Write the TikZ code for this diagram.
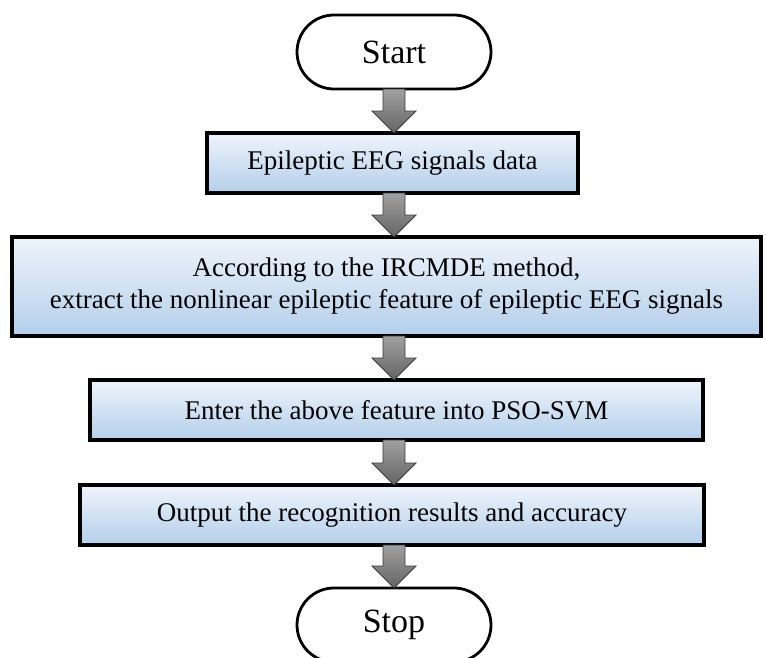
\documentclass[tikz,border=0pt]{standalone}
\usepackage{fontspec}
\setmainfont{Liberation Serif}
\usetikzlibrary{calc}
\definecolor{boxtop}{RGB}{238,244,251}
\definecolor{boxbot}{RGB}{180,207,235}
\definecolor{arrtop}{RGB}{160,160,160}
\definecolor{arrbot}{RGB}{100,100,100}
\definecolor{arrline}{RGB}{60,60,60}
\tikzset{
  procbox/.style={rectangle, draw=black, line width=3.5pt, top color=boxtop, bottom color=boxbot,
    inner sep=0pt, outer sep=0pt, align=center, font=\fontsize{27}{32}\selectfont},
  termbox/.style={rectangle, draw=black, line width=2.8pt, fill=white, rounded corners=37pt,
    minimum width=194pt, minimum height=74pt, inner sep=0pt, outer sep=0pt,
    font=\fontsize{34}{40}\selectfont},
  blockarr/.style={draw=arrline, line width=0.9pt, top color=arrtop, bottom color=arrbot, line join=miter}
}
\newcommand{\blockarrow}[2]{%
  \path[blockarr] let \p1=(#1.south -| axis), \p2=(#2.north -| axis) in
    (\x1-11pt,\y1) -- (\x1+11pt,\y1) -- (\x1+11pt,\y2+22pt) -- (\x1+22pt,\y2+22pt)
    -- (\x1,\y2) -- (\x1-22pt,\y2+22pt) -- (\x1-11pt,\y2+22pt) -- cycle;}
\begin{document}
\begin{tikzpicture}[x=1pt,y=-1pt]
\useasboundingbox (0,0) rectangle (766,657);
\clip (0,0) rectangle (766,657);
\coordinate (axis) at (394,0);
\node[termbox] (start) at (394,52) {Start};
\node[procbox, minimum width=371pt, minimum height=60pt] (b1) at (392.5,163) {Epileptic EEG signals data};
\node[procbox, minimum width=749pt, minimum height=99pt] (b2) at (386.5,286.5)
  {According to the IRCMDE method,\\extract the nonlinear epileptic feature of epileptic EEG signals};
\node[procbox, minimum width=613pt, minimum height=60pt] (b3) at (396.5,410) {Enter the above feature into PSO-SVM};
\node[procbox, minimum width=624pt, minimum height=60pt] (b4) at (392,515) {Output the recognition results and accuracy};
\node[termbox] (stop) at (394,625) {Stop};
\blockarrow{start}{b1}
\blockarrow{b1}{b2}
\blockarrow{b2}{b3}
\blockarrow{b3}{b4}
\blockarrow{b4}{stop}
\end{tikzpicture}
\end{document}
